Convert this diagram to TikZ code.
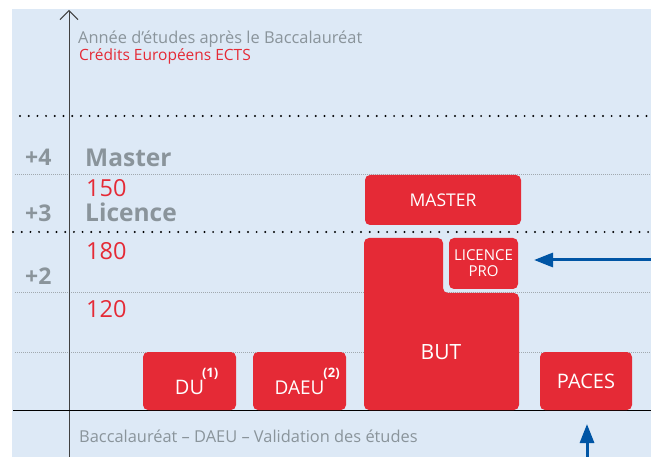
\documentclass[tikz,border=0pt]{standalone}
\usepackage{fontspec}
\setmainfont{Open Sans}
\usetikzlibrary{arrows.meta}
\definecolor{bgblue}{HTML}{DDE9F6}
\definecolor{boxred}{HTML}{E52A36}
\definecolor{txtgray}{HTML}{8A949B}
\definecolor{arrblue}{HTML}{0055A5}
\tikzset{
  redbox/.style={fill=boxred, rounded corners=5pt, text=white, inner sep=0pt, align=center},
  thickdots/.style={line width=2.2pt, line cap=round, dash pattern=on 0pt off 8.7pt, black},
  thindots/.style={line width=0.6pt, dash pattern=on 0.8pt off 1.2pt, txtgray!80},
  lbl/.style={anchor=base west, inner sep=0pt},
  graytxt/.style={lbl, text=txtgray, font=\fontsize{16.4}{16}\selectfont},
  ects/.style={lbl, text=boxred, font=\fontsize{23.5}{23}\selectfont},
  level/.style={lbl, text=txtgray, font=\fontsize{24.5}{24}\selectfont\bfseries},
  year/.style={lbl, text=txtgray, font=\fontsize{23}{23}\selectfont\bfseries},
  bluearrow/.style={draw=arrblue, line width=3pt, -{Triangle[length=19pt, width=14pt]}}
}
\begin{document}
\begin{tikzpicture}[x=1pt, y=-1pt]
\useasboundingbox (0,0) rectangle (651,457);
\fill[bgblue] (12,9) rectangle (651,457);
% grid lines
\coordinate (t1a) at (20,116); \coordinate (t1b) at (651,116);
\coordinate (t2a) at (13,232); \coordinate (t2b) at (651,232);
\draw[thickdots] (t1a) -- (t1b);
\draw[thickdots] (t2a) -- (t2b);
\coordinate (g1a) at (15,174); \coordinate (g1b) at (651,174);
\coordinate (g2a) at (15,292); \coordinate (g2b) at (651,292);
\coordinate (g3a) at (15,352); \coordinate (g3b) at (651,352);
\draw[thindots] (g1a) -- (g1b);
\draw[thindots] (g2a) -- (g2b);
\draw[thindots] (g3a) -- (g3b);
% axes
\coordinate (axb) at (69,457); \coordinate (axt) at (69,10);
\draw[line width=1pt, draw=black!75, -{Straight Barb[length=9pt, width=18pt]}] (axb) -- (axt);
\coordinate (bla) at (13,410.5); \coordinate (blb) at (651,410.5);
\draw[line width=1.2pt, black] (bla) -- (blb);
% texts
\node[graytxt] (annee) at (78,44) {Année d’études après le Baccalauréat};
\node[lbl, text=boxred, font=\fontsize{15.5}{15}\selectfont] (ectsl) at (79,61) {Crédits Européens ECTS};
\node[year] (p4) at (25,166) {+4};
\node[level] (master) at (85,167) {Master};
\node[ects] (c150) at (86,197) {150};
\node[year] (p3) at (25,222) {+3};
\node[level] (licence) at (85,222) {Licence};
\node[ects] (c180) at (86,260) {180};
\node[year] (p2) at (25,284) {+2};
\node[ects] (c120) at (86,317) {120};
\node[graytxt] (bac) at (79,442) {Baccalauréat – DAEU – Validation des études};
% boxes
\node[redbox, minimum width=156pt, minimum height=50pt, font=\fontsize{17.5}{17}\selectfont] (mbox) at (443,200) {MASTER};
\fill[boxred, rounded corners=5pt] (364,238) -- (443,238) -- (443,293) -- (519,293) -- (519,410) -- (364,410) -- cycle;
\node[text=white, font=\fontsize{21}{21}\selectfont, inner sep=0pt] (but) at (441,352) {BUT};
\node[redbox, minimum width=69pt, minimum height=51pt, font=\fontsize{15}{16}\selectfont] (lpro) at (483.5,263.5) {LICENCE\\PRO};
\node[redbox, minimum width=92pt, minimum height=58pt, font=\fontsize{20}{20}\selectfont] (paces) at (586,381) {PACES};
\node[redbox, minimum width=93pt, minimum height=58pt, font=\fontsize{20}{20}\selectfont] (du) at (189.5,381) {DU\rlap{\kern-2pt\raisebox{17pt}{\fontsize{13}{13}\selectfont\bfseries(1)}}};
\node[redbox, minimum width=93pt, minimum height=58pt, font=\fontsize{19}{19}\selectfont] (daeu) at (299.5,381) {DAEU\rlap{\kern-1pt\raisebox{17pt}{\fontsize{13}{13}\selectfont\bfseries(2)}}};
% blue arrows
\coordinate (ra) at (651,260);
\coordinate (rb) at (534,260);
\draw[bluearrow] (ra) -- (rb);
\coordinate (ba) at (587,457);
\coordinate (bb) at (587,424);
\draw[bluearrow] (ba) -- (bb);
\end{tikzpicture}
\end{document}
